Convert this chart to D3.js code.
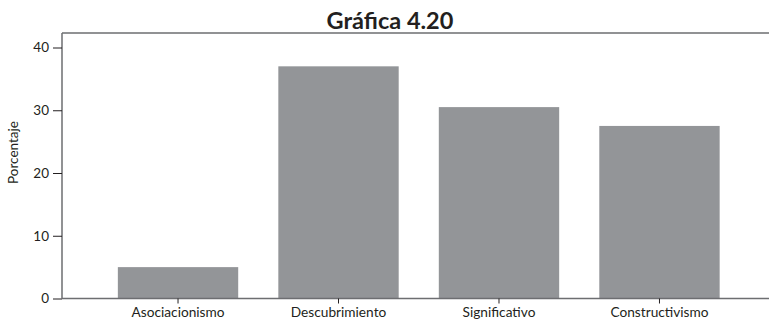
<!DOCTYPE html>
<html><head><meta charset="utf-8">
<script src="https://cdn.jsdelivr.net/npm/d3@7"></script>
<style>body{margin:0;background:#fff}svg{display:block}text{font-family:Lato,"Open Sans",sans-serif;fill:#231f20}</style>
</head><body><svg id="c" width="769" height="320"></svg>
<script>
const categories = ["Asociacionismo","Descubrimiento","Significativo","Constructivismo"];
const values = [5.0, 37.0, 30.5, 27.5];
const yTicks = [0,10,20,30,40];
const title = "Gráfica 4.20";
const yLabel = "Porcentaje";

const svg = d3.select("#c");
const mLeft = 62, mTop = 33, mBottom = 298.5, mRight = 769;
const x = d3.scaleBand().domain(categories).range([mLeft, 775.5]).paddingInner(0.25).paddingOuter(0.348);
const y = d3.scaleLinear().domain([0, 40]).range([mBottom, 47.5]);
const lineCol = "#6d6e71";

svg.append("g").selectAll("rect").data(values).join("rect")
  .attr("x", (d,i)=>x(categories[i])).attr("width", x.bandwidth())
  .attr("y", d=>y(d)).attr("height", d=>y(0)-y(d)).attr("fill", "#939598");

// frame
svg.append("line").attr("x1", mLeft).attr("x2", mRight).attr("y1", mTop).attr("y2", mTop).attr("stroke", lineCol).attr("stroke-width", 1.5);
svg.append("line").attr("x1", mLeft).attr("x2", mLeft).attr("y1", mTop).attr("y2", mBottom).attr("stroke", lineCol).attr("stroke-width", 1.5);

const ya = svg.append("g").attr("transform", `translate(${mLeft},0)`)
  .call(d3.axisLeft(y).tickValues(yTicks).tickSize(9).tickPadding(4));
ya.select(".domain").remove();
ya.selectAll("line").attr("stroke", "#231f20");
ya.selectAll("text").attr("font-size", 13.5).attr("font-family", "Lato").attr("fill", "#231f20");

const xa = svg.append("g").attr("transform", `translate(0,${mBottom})`)
  .call(d3.axisBottom(x).tickSize(5).tickPadding(4).tickSizeOuter(0));
xa.select(".domain").attr("d", `M${mLeft},0H${mRight}`).attr("stroke", lineCol).attr("stroke-width", 1.5);
xa.selectAll("line").attr("stroke", "#231f20");
xa.selectAll("text").attr("font-size", 13.7).attr("font-family", "Lato").attr("fill", "#231f20");

svg.append("text").attr("x", 390).attr("y", 29).attr("text-anchor", "middle")
  .attr("font-size", 23.5).attr("font-weight", "bold").text(title);

svg.append("text").attr("transform", "translate(18,152.5) rotate(-90)").attr("text-anchor", "middle")
  .attr("font-size", 13.5).text(yLabel);
</script></body></html>
